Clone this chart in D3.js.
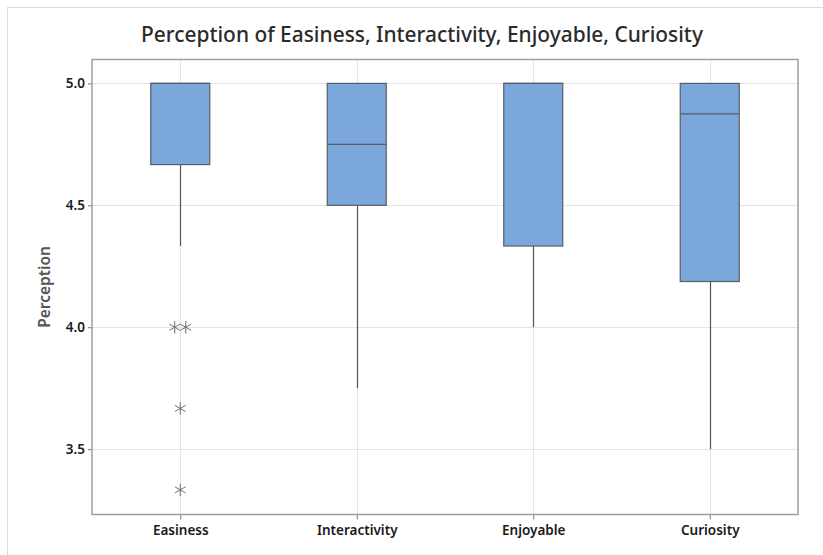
<!DOCTYPE html>
<html>
<head>
<meta charset="utf-8">
<script src="https://cdn.jsdelivr.net/npm/d3@7"></script>
<style>
  html, body { margin: 0; padding: 0; background: #fff; }
  svg { display: block; font-family: "Noto Sans", "Open Sans", sans-serif; }
</style>
</head>
<body>
<svg id="chart" width="823" height="555"></svg>
<script>
// Box-plot summaries per category
const categories = ["Easiness", "Interactivity", "Enjoyable", "Curiosity"];
const q1Values     = [4.667, 4.5, 4.333, 4.1875];
const medianValues = [5.0, 4.75, 5.0, 4.875];
const q3Values     = [5.0, 5.0, 5.0, 5.0];
const whiskerLow   = [4.333, 3.75, 4.0, 3.5];
const whiskerHigh  = [5.0, 5.0, 5.0, 5.0];
const outlierValues = [[4.0, 4.0, 3.667, 3.333], [], [], []];
const yTicks = [3.5, 4.0, 4.5, 5.0];
const yDomain = [3.232, 5.098];

const title = "Perception of Easiness, Interactivity, Enjoyable, Curiosity";
const yLabel = "Perception";

const FONT = '"Noto Sans", "Open Sans", sans-serif';
const svg = d3.select("#chart");
const W = 823, H = 555;
const plot = { left: 92, right: 798, top: 59.5, bottom: 514.5 };

// outer frame
svg.append("rect")
  .attr("x", 7.5).attr("y", 7.5)
  .attr("width", W).attr("height", H)
  .attr("fill", "none").attr("stroke", "#dcdcdc").attr("stroke-width", 1);

const x = d3.scalePoint().domain(categories)
  .range([plot.left, plot.right]).padding(0.5);
const y = d3.scaleLinear().domain(yDomain).range([plot.bottom, plot.top]);

// gridlines
const grid = svg.append("g");
grid.selectAll("line.h").data(yTicks).join("line")
  .attr("x1", plot.left).attr("x2", plot.right)
  .attr("y1", d => Math.round(y(d)) + 0.5).attr("y2", d => Math.round(y(d)) + 0.5)
  .attr("stroke", "#e4e4e4").attr("stroke-width", 1);
grid.selectAll("line.v").data(categories).join("line")
  .attr("y1", plot.top).attr("y2", plot.bottom)
  .attr("x1", d => Math.round(x(d)) + 0.5).attr("x2", d => Math.round(x(d)) + 0.5)
  .attr("stroke", "#e4e4e4").attr("stroke-width", 1);

// axes
const yAxis = svg.append("g")
  .attr("transform", `translate(${plot.left},0)`)
  .call(d3.axisLeft(y).tickValues(yTicks).tickFormat(d3.format(".1f")).tickSize(4).tickPadding(3));
const xAxis = svg.append("g")
  .attr("transform", `translate(0,${plot.bottom})`)
  .call(d3.axisBottom(x).tickSize(5).tickPadding(6));
[yAxis, xAxis].forEach(g => {
  g.attr("font-family", FONT);
  g.select(".domain").remove();
  g.selectAll(".tick line").attr("stroke", "#777");
  g.selectAll(".tick text")
    .attr("fill", "#1a1a1a")
    .style("font-size", "13.5px").style("font-weight", "600");
});
xAxis.selectAll(".tick text").attr("dy", "0.71em");

// boxes
const bw = 59;
const data = categories.map((c, i) => ({
  c, q1: q1Values[i], med: medianValues[i], q3: q3Values[i],
  lo: whiskerLow[i], hi: whiskerHigh[i], out: outlierValues[i]
}));
const boxes = svg.append("g").selectAll("g").data(data).join("g");
boxes.append("line")
  .attr("x1", d => Math.round(x(d.c)) + 0.5).attr("x2", d => Math.round(x(d.c)) + 0.5)
  .attr("y1", d => y(d.q1)).attr("y2", d => y(d.lo))
  .attr("stroke", "#555").attr("stroke-width", 1.2);
boxes.append("line")
  .attr("x1", d => Math.round(x(d.c)) + 0.5).attr("x2", d => Math.round(x(d.c)) + 0.5)
  .attr("y1", d => y(d.q3)).attr("y2", d => y(d.hi))
  .attr("stroke", "#555").attr("stroke-width", 1.2);
boxes.append("rect")
  .attr("x", d => x(d.c) - bw / 2).attr("width", bw)
  .attr("y", d => y(d.q3)).attr("height", d => y(d.q1) - y(d.q3))
  .attr("fill", "#7ba7da").attr("stroke", "#5a5d66").attr("stroke-width", 1.2);
boxes.append("line")
  .attr("x1", d => x(d.c) - bw / 2).attr("x2", d => x(d.c) + bw / 2)
  .attr("y1", d => y(d.med)).attr("y2", d => y(d.med))
  .attr("stroke", "#5a5d66").attr("stroke-width", 1.4);

// outliers drawn as asterisks; tied values are spread side by side
const star = d3.symbol().type(d3.symbolAsterisk).size(110);
boxes.each(function(d) {
  const counts = d3.rollup(d.out, v => v.length, v => v);
  const seen = new Map();
  const pts = d.out.map(v => {
    const n = counts.get(v);
    const k = seen.get(v) || 0;
    seen.set(v, k + 1);
    return { v, off: (k - (n - 1) / 2) * 11 };
  });
  d3.select(this).selectAll("path.out").data(pts).join("path")
    .attr("transform", p => `translate(${x(d.c) + p.off},${y(p.v)})`)
    .attr("d", star)
    .attr("fill", "none").attr("stroke", "#6e6e6e").attr("stroke-width", 1);
});

// plot frame
svg.append("rect")
  .attr("x", plot.left).attr("y", plot.top)
  .attr("width", plot.right - plot.left).attr("height", plot.bottom - plot.top)
  .attr("fill", "none").attr("stroke", "#9e9e9e").attr("stroke-width", 1.5);

// title
const t = svg.append("text")
  .attr("x", 422).attr("y", 42)
  .attr("text-anchor", "middle")
  .attr("fill", "#2b2b2b")
  .style("font-size", "21px").style("font-weight", "500")
  .text(title);
const tw = t.node().getComputedTextLength();
t.style("font-size", (21 * 562 / tw).toFixed(2) + "px");

// y label
svg.append("text")
  .attr("transform", `translate(50,287) rotate(-90)`)
  .attr("text-anchor", "middle")
  .attr("fill", "#555")
  .style("font-size", "15.5px").style("font-weight", "600")
  .text(yLabel);
</script>
</body>
</html>
